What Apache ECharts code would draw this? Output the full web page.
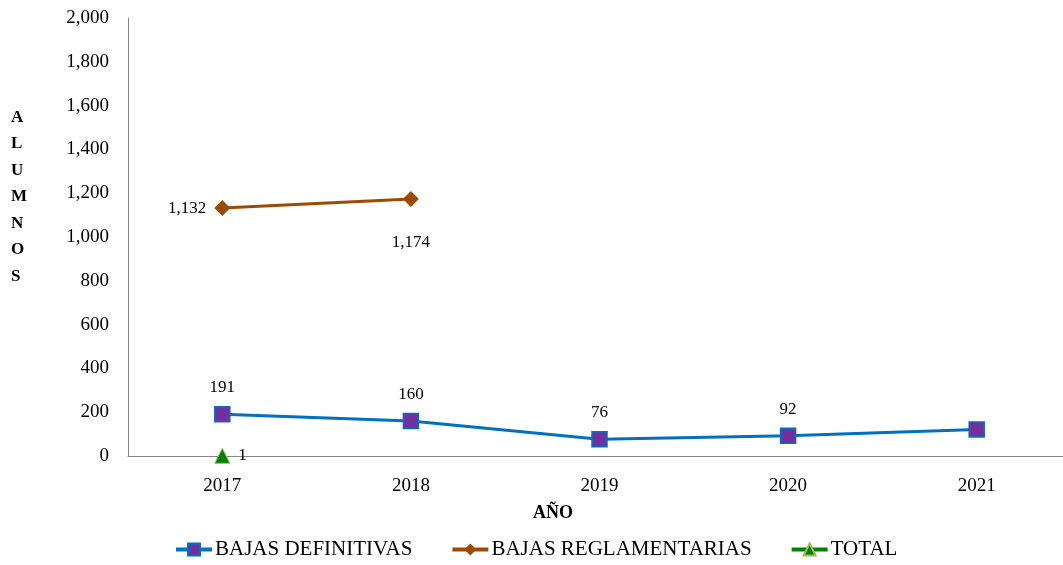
<!DOCTYPE html>
<html><head><meta charset="utf-8">
<script src="https://cdn.jsdelivr.net/npm/echarts@6/dist/echarts.min.js"></script>
<style>html,body{margin:0;padding:0;background:#fff}#c{width:1063px;height:565px}</style>
</head><body><div id="c"></div>
<script>
const categories = ['2017','2018','2019','2020','2021'];
const bajasDefinitivas = [191, 160, 76, 92, 121];
const bajasReglamentarias = [1132, 1174, null, null, null];
const total = [1, null, null, null, null];
const yTicks = {min: 0, max: 2000, interval: 200};

const F = 'Liberation Serif';
const chart = echarts.init(document.getElementById('c'));
chart.setOption({
  animation: false,
  textStyle: {fontFamily: F},
  grid: {left: 128, top: 18, width: 943, height: 438, outerBoundsMode: 'none', containLabel: false},
  xAxis: {
    type: 'category', data: categories, boundaryGap: true,
    axisLine: {lineStyle: {color: '#868686', width: 1}},
    axisTick: {show: false},
    axisLabel: {color: '#000', fontSize: 19, fontFamily: F, margin: 21}
  },
  yAxis: {
    type: 'value', min: yTicks.min, max: yTicks.max, interval: yTicks.interval,
    axisLine: {show: true, lineStyle: {color: '#868686', width: 1}},
    axisTick: {show: false},
    splitLine: {show: false},
    axisLabel: {color: '#000', fontSize: 19, fontFamily: F, margin: 19,
      formatter: v => v.toLocaleString('en-US')}
  },
  graphic: [
    {type: 'text', left: 11, top: 104, style: {text: 'A\nL\nU\nM\nN\nO\nS', font: 'bold 17px ' + F, fill: '#000', lineHeight: 26.5, align: 'center'}},
    {type: 'text', left: 533, top: 504, style: {text: 'AÑO', font: 'bold 18px ' + F, fill: '#000'}}
  ],
  legend: {
    bottom: 0, left: 169, itemGap: 38, itemWidth: 36, itemHeight: 15,
    textStyle: {color: '#000', fontSize: 21, fontFamily: F, padding: [0, 0, 0, -2]},
    lineStyle: {width: 4},
    data: ['BAJAS DEFINITIVAS', 'BAJAS REGLAMENTARIAS', 'TOTAL']
  },
  series: [
    {
      name: 'BAJAS DEFINITIVAS', type: 'line', data: bajasDefinitivas,
      symbol: 'rect', symbolSize: 15,
      lineStyle: {color: '#0070C0', width: 3},
      itemStyle: {color: '#7030A0', borderColor: '#0070C0', borderWidth: 1.5},
      label: {show: true, position: 'top', distance: 10, color: '#000', fontSize: 17, fontFamily: F,
        formatter: p => p.dataIndex === 4 ? '' : p.value}
    },
    {
      name: 'BAJAS REGLAMENTARIAS', type: 'line',
      symbol: 'diamond', symbolSize: 16,
      lineStyle: {color: '#9C4A06', width: 3},
      itemStyle: {color: '#9C4A06'},
      label: {show: true, color: '#000', fontSize: 17, fontFamily: F,
        formatter: p => p.value == null ? '' : p.value.toLocaleString('en-US'),
        position: 'left', distance: 8},
      data: bajasReglamentarias.map((v, i) => i === 1 ? {value: v, label: {position: 'bottom', distance: 27}} : v)
    },
    {
      name: 'TOTAL', type: 'line', data: total,
      symbol: 'triangle', symbolSize: 15,
      lineStyle: {color: '#008000', width: 3},
      itemStyle: {color: '#008000', borderColor: '#9BBB59', borderWidth: 1},
      label: {show: true, position: 'right', distance: 8, color: '#000', fontSize: 17, fontFamily: F}
    }
  ]
});
</script></body></html>
